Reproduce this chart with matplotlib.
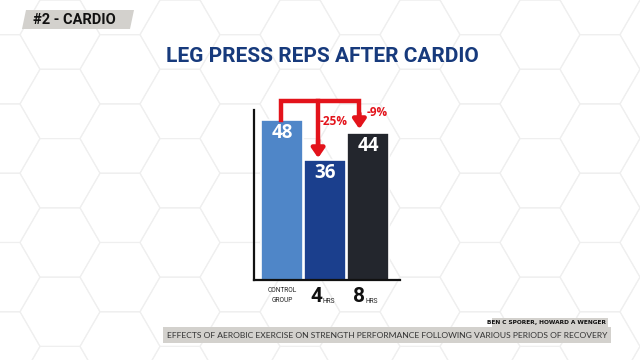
import numpy as np
import matplotlib.pyplot as plt
from matplotlib.patches import RegularPolygon, Polygon, Rectangle

categories = ['CONTROL\nGROUP', '4', '8']
reps = [48, 36, 44]
changes = ['-25%', '-9%']
bar_colors = ['#4f86c8', '#1b3f8d', '#23262d']

narrow = ['Roboto', 'DejaVu Sans']

fig = plt.figure(figsize=(6.4, 3.6), dpi=100)
fig.patch.set_facecolor('white')

# hex background
bg = fig.add_axes([0, 0, 1, 1])
bg.set_xlim(0, 640)
bg.set_ylim(360, 0)
bg.axis('off')
r = 40
for i in range(-1, 12):
    for j in range(-1, 7):
        cx = i * r * 1.5
        cy = j * r * np.sqrt(3) + (r * np.sqrt(3) / 2 if i % 2 else 0)
        bg.add_patch(RegularPolygon((cx, cy), 6, radius=r, orientation=np.pi / 6,
                                    fill=False, ec='#efefef', lw=0.8))

# top-left tag
bg.add_patch(Polygon([[26, 10], [134, 10], [130, 29], [22, 29]], closed=True, fc='#d3d1cd', ec='none'))
bg.text(33, 20, '#2 - CARDIO', family=narrow, fontweight='bold', fontsize=10.5, color='#111111', va='center')

# title
bg.text(322, 57, 'LEG PRESS REPS AFTER CARDIO', family=narrow, fontweight='bold', fontsize=15,
        color='#173a7c', ha='center', va='center')

# citation
bg.add_patch(Rectangle((492, 318), 116, 9, fc='#d3d1cd', ec='none'))
bg.text(606, 322.5, 'BEN C SPORER, HOWARD A WENGER', fontsize=4.2, fontweight='bold', color='#111111',
        ha='right', va='center')
bg.add_patch(Rectangle((163, 327), 448, 16, fc='#d3d1cd', ec='none'))
bg.text(607, 335, 'EFFECTS OF AEROBIC EXERCISE ON STRENGTH PERFORMANCE FOLLOWING VARIOUS PERIODS OF RECOVERY',
        fontsize=6.1, color='#333333', ha='right', va='center', family='Lato')

# chart
ax = fig.add_axes([254 / 640, 1 - 280 / 360, 146 / 640, 190 / 360])
ax.patch.set_alpha(0)
x = np.arange(len(reps))
ax.bar(x, reps, width=0.98, color=bar_colors, edgecolor='white', linewidth=1.2, zorder=2)
ax.set_xlim(-0.651, -0.651 + 146 / 43)
ax.set_ylim(0, 57)
for s in ['top', 'right']:
    ax.spines[s].set_visible(False)
ax.spines['left'].set_bounds(0, 51)
ax.spines['left'].set_linewidth(1.6)
ax.spines['bottom'].set_linewidth(1.6)
ax.spines['left'].set_color('#111111')
ax.spines['bottom'].set_color('#111111')
ax.set_yticks([])
ax.set_xticks([])

for xi, v in zip(x, reps):
    ax.text(xi, v - 3.8, str(v), color='white', fontweight='bold', fontsize=13.5, ha='center', va='center',
            family='Open Sans')

# category labels
ax.text(0, -4.5, categories[0], family=narrow, fontsize=4.8, ha='center', va='center', color='#222222',
        linespacing=1.6)
for xi, lab in zip(x[1:], categories[1:]):
    ax.text(xi - 0.07, -5, lab, family=narrow, fontweight='bold', fontsize=15, ha='right', va='center',
            color='#111111')
    ax.text(xi - 0.05, -6.4, 'HRS', family=narrow, fontsize=4.8, ha='left', va='center', color='#222222')

# red bracket arrows
red = '#e3131b'
ax.plot([-0.02, -0.02, 1.80, 1.80], [48, 53.6, 53.6, 49], color=red, lw=3.2, solid_joinstyle='miter',
        zorder=3, clip_on=False)
ax.plot([0.84, 0.84], [53.6, 40], color=red, lw=3.2, zorder=3)
arrow = dict(arrowstyle='-|>,head_width=0.38,head_length=0.55', color=red, lw=3.2, shrinkA=0, shrinkB=0)
ax.annotate('', xy=(0.84, 36.6), xytext=(0.84, 42), arrowprops=arrow, zorder=4)
ax.annotate('', xy=(1.80, 45.3), xytext=(1.80, 50), arrowprops=arrow, zorder=4)
ax.text(1.19, 47.6, changes[0], color=red, fontweight='bold', fontsize=8.5, ha='center', va='center',
        family='Open Sans')
ax.text(2.22, 50.4, changes[1], color=red, fontweight='bold', fontsize=8.5, ha='center', va='center',
        family='Open Sans')

fig.savefig('out.png', dpi=100)
